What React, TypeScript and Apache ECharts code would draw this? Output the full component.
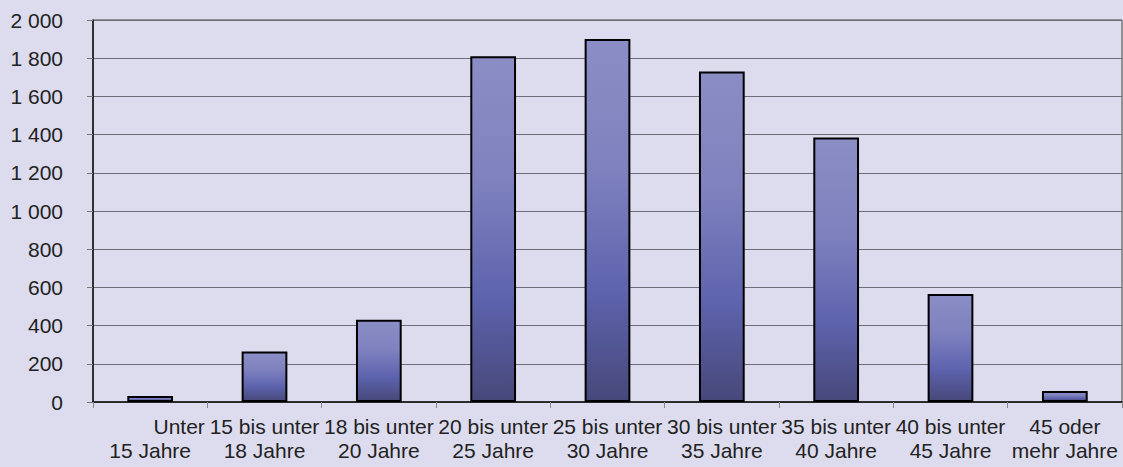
import React, { useEffect, useRef } from "react";
import * as echarts from "echarts";

const categories = [
  "Unter\n15 Jahre",
  "15 bis unter\n18 Jahre",
  "18 bis unter\n20 Jahre",
  "20 bis unter\n25 Jahre",
  "25 bis unter\n30 Jahre",
  "30 bis unter\n35 Jahre",
  "35 bis unter\n40 Jahre",
  "40 bis unter\n45 Jahre",
  "45 oder\nmehr Jahre",
];
const values = [32, 265, 430, 1810, 1900, 1730, 1385, 565, 57];
const yTicks = { min: 0, max: 2000, interval: 200 };

const fmtThousands = (v: number) =>
  String(v).replace(/\B(?=(\d{3})+(?!\d))/g, " ");

export default function App() {
  const ref = useRef<HTMLDivElement>(null);
  useEffect(() => {
    document.body.style.margin = "0";
    const chart = echarts.init(ref.current!, null, { renderer: "svg" });
    const font = "'Liberation Sans', Arial, sans-serif";
    chart.setOption({
      animation: false,
      backgroundColor: "#dddcee",
      grid: {
        left: 93,
        right: 1,
        top: 20,
        bottom: 65,
        show: true,
        borderColor: "#444",
        borderWidth: 1,
        backgroundColor: "transparent",
      },
      xAxis: {
        type: "category",
        data: categories,
        axisLine: { show: true, lineStyle: { color: "#111", width: 1.5 } },
        axisTick: { show: true, length: 6, lineStyle: { color: "#888", width: 1 } },
        axisLabel: {
          fontFamily: font,
          fontSize: 21,
          lineHeight: 24,
          color: "#222",
          margin: 12,
          interval: 0,
          formatter: (v: string, i: number) => {
            if (i === 0) {
              const parts = v.split("\n");
              return "{u|" + parts[0] + "}\n" + parts[1];
            }
            return v;
          },
          rich: {
            u: {
              fontFamily: font,
              fontSize: 21,
              lineHeight: 24,
              color: "#222",
              padding: [0, 0, 0, 58],
            },
          },
        },
      },
      yAxis: {
        type: "value",
        min: yTicks.min,
        max: yTicks.max,
        interval: yTicks.interval,
        axisLine: { show: true, lineStyle: { color: "#111", width: 1.5 } },
        axisTick: { show: true, length: 6, lineStyle: { color: "#777" } },
        splitLine: { show: true, lineStyle: { color: "#6e6e7a", width: 1.2 } },
        axisLabel: {
          fontFamily: font,
          fontSize: 21,
          color: "#222",
          margin: 30,
          formatter: fmtThousands,
        },
      },
      series: [
        {
          type: "bar",
          data: values,
          barWidth: "40%",
          itemStyle: {
            borderColor: "#000",
            borderWidth: 2,
            color: new echarts.graphic.LinearGradient(0, 0, 0, 1, [
              { offset: 0, color: "#8b8dc5" },
              { offset: 0.35, color: "#8082bf" },
              { offset: 0.7, color: "#5d63ad" },
              { offset: 1, color: "#474879" },
            ]),
          },
        },
      ],
    });
    return () => chart.dispose();
  }, []);
  return <div ref={ref} style={{ width: 1123, height: 467 }} />;
}
